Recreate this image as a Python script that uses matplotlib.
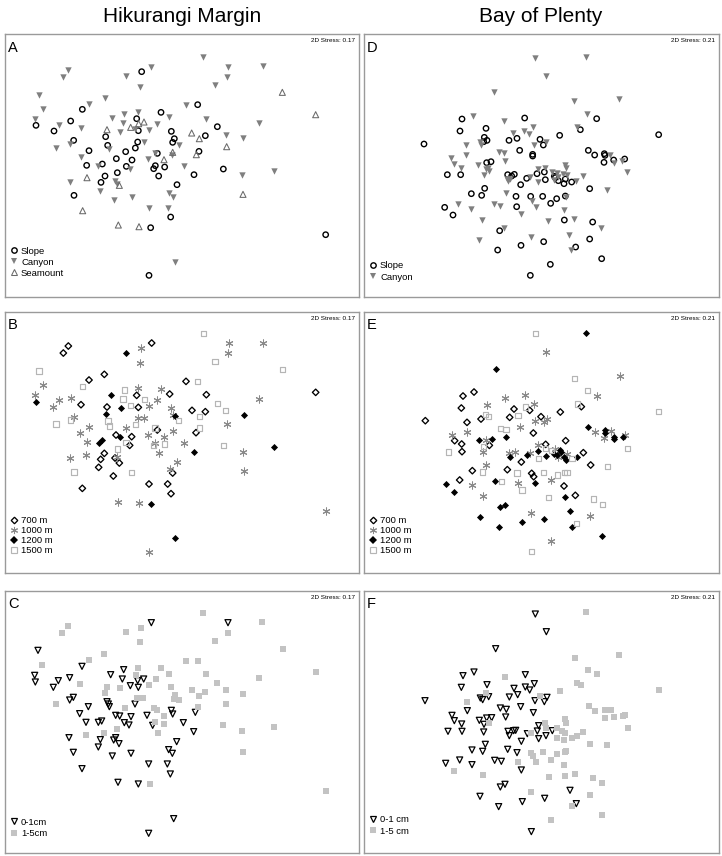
import matplotlib.pyplot as plt
from matplotlib.lines import Line2D

plt.rcParams['font.family'] = ['Liberation Sans', 'DejaVu Sans']

# NMDS scores (arbitrary units, y runs downwards)
# --- Hikurangi Margin, panel A (habitat)
a_slope = [(410, 101), (578, 200), (232, 214), (468, 223), (93, 262), (197, 249), (395, 242), (147, 279),
           (400, 278), (637, 266), (499, 280), (206, 307), (302, 296), (508, 302), (601, 293), (503, 313),
           (308, 322), (398, 312), (252, 338), (391, 330), (362, 341), (457, 346), (582, 340), (334, 362),
           (381, 366), (245, 382), (292, 378), (364, 385), (451, 383), (446, 392), (479, 387), (655, 393),
           (337, 404), (567, 410), (300, 414), (461, 414), (288, 433), (516, 440), (207, 472), (497, 537),
           (437, 569), (962, 590), (432, 712)]
a_canyon = [(595, 58), (439, 87), (670, 87), (773, 85), (190, 97), (175, 117), (364, 115), (667, 118),
            (630, 142), (405, 148), (102, 170), (299, 180), (253, 198), (543, 202), (113, 213), (358, 228),
            (400, 222), (320, 241), (493, 238), (604, 242), (91, 243), (762, 255), (162, 260), (229, 270),
            (353, 256), (455, 258), (389, 272), (433, 275), (346, 282), (663, 290), (715, 300), (153, 329),
            (196, 318), (416, 313), (522, 320), (313, 333), (227, 356), (429, 363), (501, 352), (450, 345),
            (536, 385), (280, 384), (376, 393), (712, 410), (806, 400), (196, 432), (330, 430), (335, 437),
            (284, 459), (380, 477), (493, 465), (503, 478), (326, 486), (431, 510), (488, 509), (509, 672)]
a_seamount = [(832, 163), (932, 230), (417, 252), (401, 257), (306, 275), (377, 268), (560, 285), (583, 302),
              (665, 326), (503, 343), (477, 365), (574, 350), (246, 419), (343, 442), (714, 469), (233, 518),
              (340, 561), (402, 566)]

# --- Hikurangi Margin, panel B (depth)
b_700 = [(190, 138), (175, 159), (440, 129), (252, 240), (298, 223), (543, 244), (494, 282), (395, 286),
         (604, 284), (228, 314), (306, 321), (400, 322), (561, 331), (601, 335), (457, 390), (333, 405),
         (380, 410), (374, 436), (573, 398), (298, 460), (287, 478), (281, 502), (343, 489), (330, 474),
         (325, 528), (503, 519), (232, 565), (432, 552), (488, 552), (498, 581), (932, 277)]
b_1000 = [(409, 145), (405, 190), (671, 129), (773, 128), (668, 160), (113, 256), (89, 286), (162, 301),
          (145, 322), (197, 293), (207, 350), (400, 265), (469, 267), (455, 299), (433, 318), (497, 323),
          (762, 297), (398, 355), (416, 355), (503, 345), (665, 372), (252, 381), (226, 400), (245, 427),
          (362, 385), (428, 405), (478, 411), (504, 393), (451, 428), (537, 428), (461, 458), (244, 464),
          (196, 473), (713, 455), (517, 485), (495, 507), (716, 514), (335, 470), (340, 606), (401, 610),
          (963, 634), (432, 755)]
b_1200 = [(364, 158), (93, 306), (319, 284), (347, 324), (302, 341), (510, 347), (716, 344), (344, 410),
          (282, 428), (291, 421), (567, 455), (806, 442), (437, 612), (509, 714)]
b_1500 = [(595, 101), (630, 185), (102, 213), (833, 209), (232, 259), (578, 244), (358, 270), (354, 297),
          (377, 317), (419, 299), (638, 311), (662, 331), (153, 372), (197, 360), (309, 363), (313, 378),
          (391, 374), (584, 349), (521, 362), (584, 384), (450, 384), (363, 428), (446, 436), (479, 432),
          (656, 437), (338, 447), (207, 516), (380, 518)]

# --- Hikurangi Margin, panel C (sediment layer)
c_top = [(439, 188), (669, 188), (99, 271), (231, 319), (89, 346), (91, 366), (160, 362), (145, 382),
         (194, 353), (317, 344), (356, 329), (352, 357), (376, 377), (398, 362), (416, 357), (400, 382),
         (194, 420), (205, 412), (306, 425), (310, 432), (313, 440), (250, 440), (224, 461), (243, 487),
         (280, 487), (290, 483), (332, 466), (344, 468), (378, 470), (358, 488), (372, 495), (390, 432),
         (426, 466), (443, 496), (499, 451), (503, 462), (535, 488), (571, 457), (566, 515), (192, 533),
         (286, 539), (280, 561), (332, 533), (326, 540), (342, 551), (515, 545), (205, 577), (322, 588),
         (378, 580), (491, 569), (502, 580), (231, 626), (431, 612), (487, 612), (496, 642), (339, 667),
         (400, 672), (506, 776), (431, 820)]
c_sub = [(594, 158), (188, 197), (172, 218), (363, 215), (407, 204), (772, 187), (668, 218), (404, 247),
         (630, 243), (833, 267), (296, 282), (251, 299), (111, 314), (542, 302), (578, 302), (399, 323),
         (467, 325), (492, 341), (603, 343), (932, 335), (392, 345), (454, 358), (762, 355), (226, 372),
         (305, 381), (345, 383), (432, 376), (498, 382), (637, 370), (301, 400), (561, 391), (600, 396),
         (663, 391), (396, 413), (415, 413), (509, 406), (506, 416), (521, 421), (583, 408), (715, 402),
         (152, 431), (361, 444), (448, 444), (456, 449), (580, 441), (663, 431), (478, 469), (476, 491),
         (450, 486), (654, 496), (806, 500), (712, 513), (243, 524), (298, 519), (337, 508), (459, 518),
         (714, 575), (435, 671), (962, 693)]

# --- Bay of Plenty, panel D (habitat)
d_slope = [(291, 243), (479, 240), (695, 242), (363, 271), (285, 279), (646, 275), (358, 298), (366, 307),
           (356, 311), (432, 307), (456, 301), (525, 304), (584, 292), (535, 321), (881, 290), (177, 318),
           (464, 337), (503, 349), (503, 354), (670, 337), (689, 351), (718, 347), (720, 352), (717, 373),
           (746, 366), (779, 363), (378, 371), (365, 374), (247, 410), (287, 410), (428, 410), (448, 409),
           (440, 414), (516, 407), (538, 402), (541, 425), (485, 421), (568, 415), (571, 419), (580, 428),
           (597, 437), (601, 423), (620, 432), (467, 440), (674, 452), (319, 467), (350, 472), (359, 451),
           (453, 475), (497, 475), (533, 475), (557, 496), (575, 482), (601, 474), (455, 506), (239, 508),
           (264, 531), (598, 546), (683, 552), (404, 578), (468, 622), (536, 611), (674, 603), (632, 627),
           (398, 636), (710, 662), (556, 679), (496, 712)]
d_canyon = [(510, 60), (662, 57), (542, 113), (388, 162), (627, 190), (762, 183), (323, 234), (417, 250),
            (666, 229), (503, 268), (477, 280), (491, 289), (444, 285), (637, 268), (304, 322), (344, 313),
            (348, 320), (543, 311), (507, 321), (257, 361), (303, 351), (402, 341), (418, 346), (420, 368),
            (266, 379), (288, 389), (338, 380), (370, 390), (362, 392), (356, 411), (434, 422), (430, 430),
            (518, 393), (541, 390), (600, 380), (602, 390), (560, 402), (575, 404), (593, 408), (605, 410),
            (580, 418), (566, 425), (632, 428), (653, 413), (519, 432), (494, 416), (736, 350), (746, 376),
            (772, 368), (787, 403), (725, 456), (424, 465), (502, 488), (512, 506), (596, 516), (280, 497),
            (319, 513), (386, 498), (406, 503), (467, 528), (351, 545), (549, 549), (628, 543), (416, 571),
            (497, 598), (613, 590), (708, 571), (342, 606), (619, 637), (602, 476), (427, 422), (373, 398)]

# --- Bay of Plenty, panel E (depth)
e_700 = [(327, 276), (294, 288), (289, 324), (181, 362), (306, 367), (447, 327), (494, 331), (434, 352),
         (348, 357), (528, 350), (586, 336), (649, 320), (505, 399), (269, 422), (290, 432), (291, 455),
         (373, 436), (542, 433), (602, 422), (655, 458), (469, 486), (677, 495), (322, 512), (427, 509),
         (500, 520), (506, 530), (284, 540), (597, 558), (631, 586)]
e_1000 = [(544, 156), (764, 227), (697, 287), (420, 294), (481, 285), (508, 313), (366, 316), (306, 395),
          (260, 406), (364, 420), (355, 456), (466, 381), (510, 364), (537, 367), (546, 356), (690, 396),
          (739, 393), (717, 415), (779, 406), (431, 458), (451, 455), (520, 436), (495, 460), (570, 446),
          (580, 470), (606, 462), (362, 494), (322, 555), (458, 550), (559, 541), (354, 589), (499, 640),
          (676, 648), (558, 722)]
e_1200 = [(663, 100), (392, 207), (670, 381), (720, 391), (720, 398), (747, 412), (748, 418), (773, 411),
          (343, 421), (380, 416), (423, 411), (434, 472), (487, 464), (518, 452), (543, 469), (566, 461),
          (576, 466), (584, 450), (589, 455), (596, 470), (602, 480), (635, 470), (242, 552), (268, 576),
          (390, 542), (511, 549), (599, 591), (406, 622), (420, 614), (615, 632), (346, 650), (472, 665),
          (538, 656), (402, 681), (621, 680), (711, 707)]
e_1500 = [(512, 101), (629, 236), (668, 272), (637, 312), (481, 321), (459, 346), (361, 344), (370, 350),
          (406, 386), (423, 388), (250, 456), (356, 440), (520, 476), (541, 446), (559, 451), (621, 476),
          (787, 446), (727, 499), (353, 516), (409, 545), (456, 519), (471, 570), (536, 518), (577, 525),
          (598, 518), (606, 518), (551, 592), (685, 597), (712, 613), (634, 671), (499, 755), (881, 335)]

# --- Bay of Plenty, panel F (sediment layer)
f_top = [(511, 162), (544, 215), (392, 266), (327, 336), (294, 347), (481, 344), (289, 382), (366, 374),
         (447, 385), (481, 381), (508, 371), (494, 390), (433, 411), (458, 404), (346, 414), (353, 419),
         (371, 410), (180, 422), (307, 452), (406, 444), (424, 448), (422, 471), (467, 440), (510, 422),
         (538, 425), (546, 412), (505, 458), (261, 466), (268, 482), (290, 492), (291, 514), (249, 514),
         (343, 481), (365, 474), (380, 473), (357, 493), (356, 516), (429, 514), (446, 512), (452, 511),
         (433, 527), (469, 544), (521, 497), (517, 513), (487, 521), (521, 536), (543, 527), (562, 512),
         (361, 553), (353, 574), (321, 570), (428, 568), (456, 578), (284, 600), (242, 610), (321, 614),
         (389, 601), (409, 604), (469, 630), (406, 681), (420, 673), (345, 709), (401, 740), (472, 725),
         (539, 715), (615, 691), (634, 731), (499, 815)]
f_sub = [(663, 157), (629, 293), (763, 284), (669, 329), (697, 343), (420, 350), (636, 370), (648, 376),
         (586, 393), (307, 425), (362, 400), (526, 407), (672, 438), (690, 453), (719, 450), (737, 450),
         (719, 474), (747, 472), (773, 468), (780, 464), (788, 503), (372, 490), (540, 490), (542, 503),
         (601, 478), (604, 490), (575, 503), (590, 512), (600, 520), (620, 533), (635, 528), (655, 516),
         (576, 533), (597, 540), (676, 553), (727, 556), (498, 519), (499, 578), (535, 576), (505, 588),
         (512, 606), (558, 600), (576, 582), (599, 576), (603, 574), (597, 614), (458, 607), (268, 632),
         (354, 646), (551, 650), (599, 648), (631, 643), (685, 654), (712, 670), (499, 697), (676, 705),
         (621, 737), (558, 779), (712, 764), (882, 391)]

# marker styles per group
STY = {
    'slope': dict(marker='o', s=15, facecolors='none', edgecolors='black', linewidths=1.0),
    'canyon': dict(marker='v', s=21, color='#7f7f7f', linewidths=0),
    'seamount': dict(marker='^', s=19, facecolors='none', edgecolors='#6a6a6a', linewidths=0.75),
    '700': dict(marker='D', s=11, facecolors='none', edgecolors='black', linewidths=0.95),
    '1000': dict(marker=(6, 2, 0), s=26, color='#8a8a8a', linewidths=0.75),
    '1200': dict(marker='D', s=13, color='black', linewidths=0),
    '1500': dict(marker='s', s=14, facecolors='none', edgecolors='#b5b5b5', linewidths=0.85),
    'top': dict(marker='v', s=19, facecolors='none', edgecolors='black', linewidths=0.9),
    'sub': dict(marker='s', s=17, color='#c3c3c3', linewidths=0),
}


def handle(key):
    st = STY[key]
    fc = st.get('facecolors', st.get('color'))
    ec = st.get('edgecolors', st.get('color'))
    return Line2D([], [], ls='none', marker=st['marker'], markersize=st['s'] ** 0.5,
                  markerfacecolor=fc, markeredgecolor=ec, markeredgewidth=max(st['linewidths'], 0.01))


W, H = 722, 856
fig = plt.figure(figsize=(W / 100, H / 100), dpi=100)


def panel(frame, xlim, ylim, letter, stress, groups, labels, leg_y, leg_sp):
    left, right, top, bottom = frame
    ax = fig.add_axes([left / W, 1 - bottom / H, (right - left) / W, (bottom - top) / H])
    for pts, key in groups:
        xs, ys = zip(*pts)
        ax.scatter(xs, ys, **STY[key])
    ax.set_xlim(*xlim)
    ax.set_ylim(*ylim)
    ax.set_xticks([])
    ax.set_yticks([])
    for sp in ax.spines.values():
        sp.set_color('#9a9a9a')
        sp.set_linewidth(1.0)
    ax.text(0.009, 0.975, letter, transform=ax.transAxes, ha='left', va='top', fontsize=10.5)
    ax.text(0.99, 0.985, '2D Stress: ' + stress, transform=ax.transAxes, ha='right', va='top',
            fontsize=4.6)
    ax.legend([handle(k) for _, k in groups], labels, loc='lower left', bbox_to_anchor=(0.008, leg_y),
              frameon=False, fontsize=6.8, handlelength=0.9, handletextpad=0.3, labelspacing=leg_sp,
              borderpad=0.2, borderaxespad=0)
    return ax


panel((5, 359, 34, 296.7), (0, 1062), (776, -12), 'A', '0.17',
      [(a_slope, 'slope'), (a_canyon, 'canyon'), (a_seamount, 'seamount')],
      ['Slope', 'Canyon', 'Seamount'], 0.065, 0.22)
panel((5, 359, 311.7, 573), (0, 1062), (819, 35), 'B', '0.17',
      [(b_700, '700'), (b_1000, '1000'), (b_1200, '1200'), (b_1500, '1500')],
      ['700 m', '1000 m', '1200 m', '1500 m'], 0.06, 0.12)
panel((5, 359, 590.7, 853.3), (0, 1062), (880, 92), 'C', '0.17',
      [(c_top, 'top'), (c_sub, 'sub')], ['0-1cm', '1-5cm'], 0.05, 0.28)
panel((364, 719, 34, 296.7), (-3, 1062), (776, -12), 'D', '0.21',
      [(d_slope, 'slope'), (d_canyon, 'canyon')], ['Slope', 'Canyon'], 0.05, 0.28)
panel((364, 719, 311.7, 573), (-3, 1062), (819, 35), 'E', '0.21',
      [(e_700, '700'), (e_1000, '1000'), (e_1200, '1200'), (e_1500, '1500')],
      ['700 m', '1000 m', '1200 m', '1500 m'], 0.06, 0.12)
panel((364, 719, 590.7, 853.3), (-3, 1062), (880, 92), 'F', '0.21',
      [(f_top, 'top'), (f_sub, 'sub')], ['0-1 cm', '1-5 cm'], 0.06, 0.28)

fig.text(182 / W, 1 - 16 / H, 'Hikurangi Margin', ha='center', va='center', fontsize=15)
fig.text(541 / W, 1 - 16 / H, 'Bay of Plenty', ha='center', va='center', fontsize=15)

fig.savefig('out.png', dpi=100)
